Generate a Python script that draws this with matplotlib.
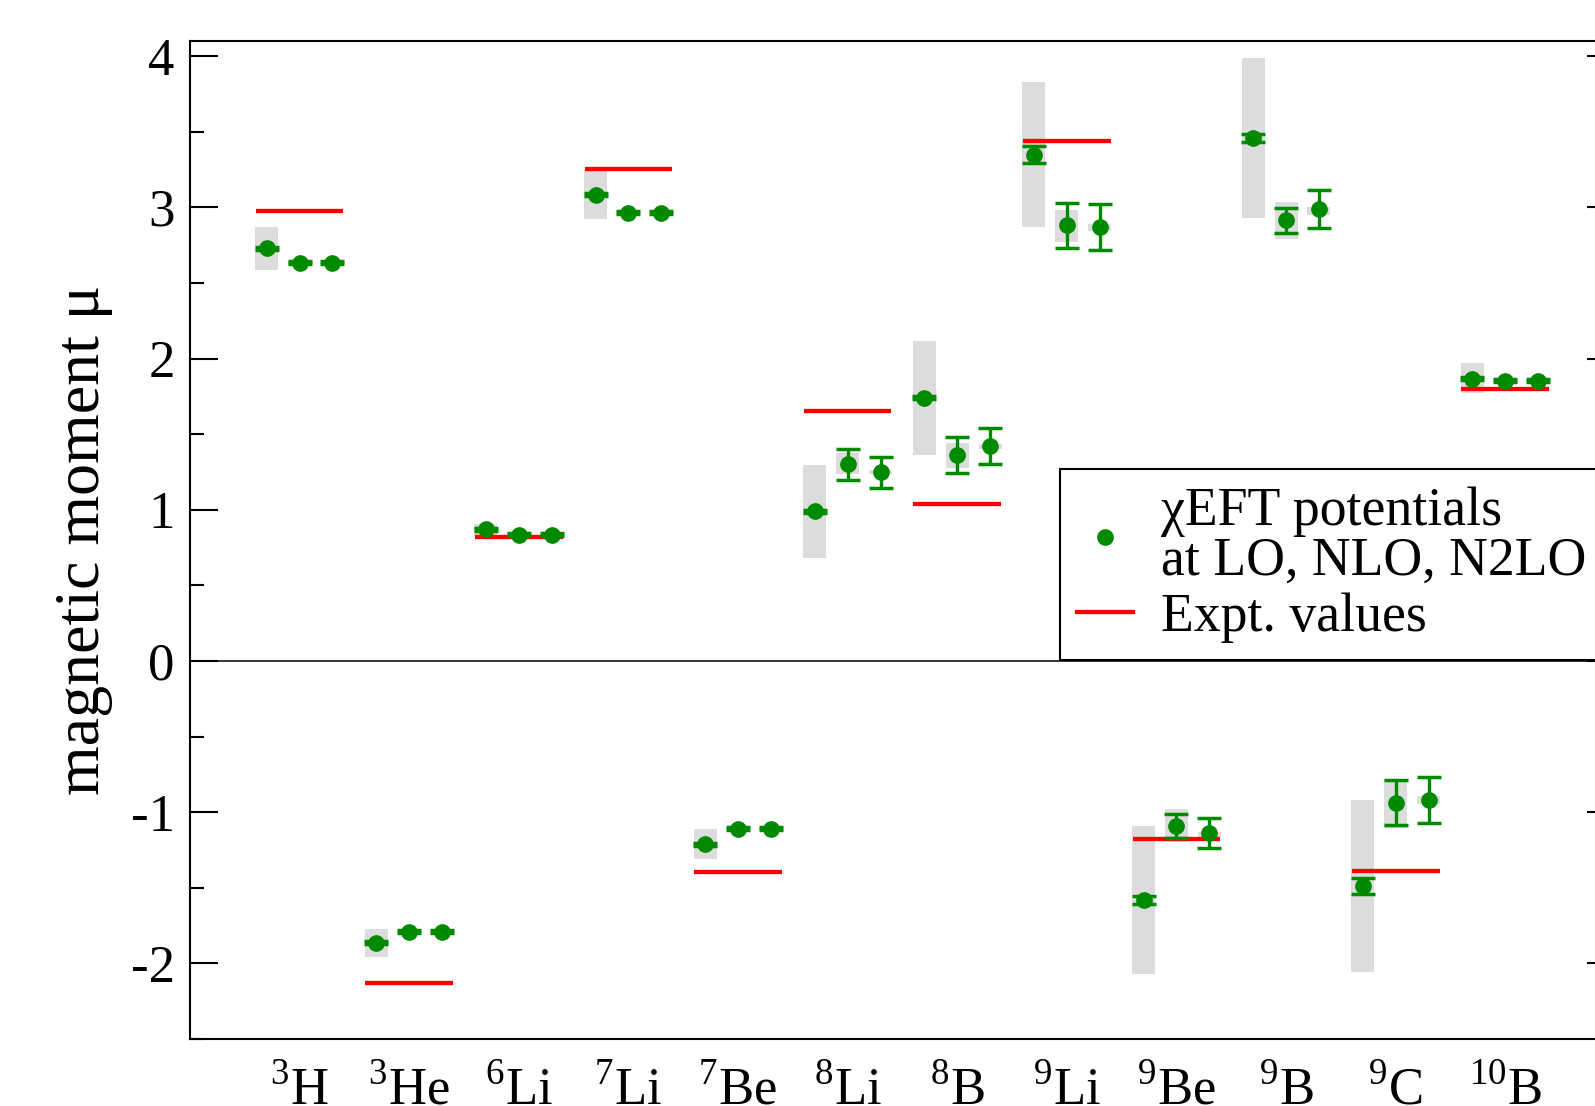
import numpy as np
import matplotlib
matplotlib.use("Agg")
import matplotlib.pyplot as plt
from matplotlib.lines import Line2D

plt.rcParams['font.family'] = ['Liberation Serif', 'DejaVu Serif']
plt.rcParams['mathtext.fontset'] = 'custom'
plt.rcParams['mathtext.rm'] = 'Liberation Serif'
plt.rcParams['axes.unicode_minus'] = False

nuclei = [r'$^{3}$H', r'$^{3}$He', r'$^{6}$Li', r'$^{7}$Li', r'$^{7}$Be', r'$^{8}$Li',
          r'$^{8}$B', r'$^{9}$Li', r'$^{9}$Be', r'$^{9}$B', r'$^{9}$C', r'$^{10}$B']

# experimental moments (9B not measured)
expt = [2.979, -2.128, 0.822, 3.256, -1.398, 1.654, 1.036, 3.437, -1.178, np.nan, -1.391, 1.80]

# central values at LO, NLO, N2LO
mu_lo = [2.728, -1.865, 0.870, 3.084, -1.212, 0.991, 1.740, 3.349, -1.580, 3.459, -1.487, 1.868]
mu_nlo = [2.633, -1.791, 0.835, 2.965, -1.111, 1.300, 1.362, 2.882, -1.091, 2.915, -0.937, 1.853]
mu_n2lo = [2.633, -1.791, 0.835, 2.965, -1.111, 1.247, 1.423, 2.870, -1.139, 2.990, -0.919, 1.853]

# statistical errors
err_lo = [0.01, 0.01, 0.01, 0.01, 0.01, 0.01, 0.01, 0.054, 0.028, 0.028, 0.053, 0.01]
err_nlo = [0.01, 0.01, 0.01, 0.01, 0.01, 0.105, 0.119, 0.150, 0.077, 0.083, 0.150, 0.01]
err_n2lo = [0.01, 0.01, 0.01, 0.01, 0.01, 0.100, 0.119, 0.152, 0.099, 0.128, 0.152, 0.01]

# systematic bands (low, high)
band_lo = [(2.584, 2.870), (-1.960, -1.771), (0.828, 0.909), (2.923, 3.246), (-1.313, -1.111),
           (0.679, 1.295), (1.362, 2.117), (2.870, 3.829), (-2.069, -1.091), (2.930, 3.990),
           (-2.058, -0.919), (1.769, 1.968)]
band_nlo = [(2.620, 2.645), (-1.800, -1.780), (0.825, 0.845), (2.955, 2.985), (-1.120, -1.100),
            (1.236, 1.373), (1.273, 1.443), (2.771, 2.985), (-1.194, -0.980), (2.794, 3.036),
            (-1.106, -0.780), (1.840, 1.860)]
band_n2lo = [(2.625, 2.640), (-1.800, -1.785), (0.830, 0.840), (2.960, 2.975), (-1.115, -1.105),
             (1.236, 1.262), (1.399, 1.434), (2.844, 2.893), (-1.161, -1.128), (2.948, 3.003),
             (-0.947, -0.892), (1.840, 1.860)]

green = '#008a00'
x = np.arange(1, len(nuclei) + 1)
offsets = [-0.3, 0.0, 0.3]

fig = plt.figure(figsize=(15.95, 11.06), dpi=100)
ax = fig.add_axes([0.1191, 0.0606, 0.8934, 0.9023])

for off, mu, err, band in zip(offsets, [mu_lo, mu_nlo, mu_n2lo],
                              [err_lo, err_nlo, err_n2lo], [band_lo, band_nlo, band_n2lo]):
    lo = np.array([b[0] for b in band])
    hi = np.array([b[1] for b in band])
    ax.bar(x + off, hi - lo, bottom=lo, width=0.21, color='#dcdcdc', zorder=1)
    ax.errorbar(x + off, mu, yerr=err, fmt='o', color=green, ms=11, elinewidth=2.4,
                capsize=8.5, capthick=2.5, zorder=3)

ax.hlines(expt, x - 0.4, x + 0.4, color='red', lw=3.1, zorder=2)
ax.axhline(0, color='black', lw=1.1, zorder=0)

ax.set_xlim(0, 13)
ax.set_ylim(-2.5, 4.1)
ax.set_xticks(x)
ax.set_xticklabels(nuclei, fontsize=38)
ax.set_yticks([-2, -1, 0, 1, 2, 3, 4])
ax.set_yticks(np.arange(-2.5, 4.01, 0.5), minor=True)
ax.tick_params(axis='x', length=0, pad=19)
ax.tick_params(axis='y', which='both', direction='in', left=True, right=True,
               width=1.5, labelsize=38, pad=11)
ax.tick_params(axis='y', which='major', length=20)
ax.tick_params(axis='y', which='minor', length=10)
for s in ax.spines.values():
    s.set_linewidth(1.5)

ax.set_ylabel('magnetic moment μ', fontsize=46)
ax.yaxis.set_label_coords(-0.054, 0.5)

handles = [Line2D([], [], ls='none', marker='o', color=green, ms=11),
           Line2D([], [], color='red', lw=3.1)]
leg = fig.legend(handles, ['χEFT potentials\nat LO, NLO, N2LO', 'Expt. values'],
                 loc='upper left', bbox_to_anchor=(1060 / 1595, 1 - 469 / 1106),
                 fontsize=38.7, frameon=True, fancybox=False, framealpha=1,
                 edgecolor='black', handlelength=1.03, handletextpad=0.53,
                 borderpad=0.32, labelspacing=0.1, borderaxespad=0)
leg.get_frame().set_linewidth(1.5)
leg.get_texts()[0].set_linespacing(1.0)

fig.savefig('out.png', dpi=100)
